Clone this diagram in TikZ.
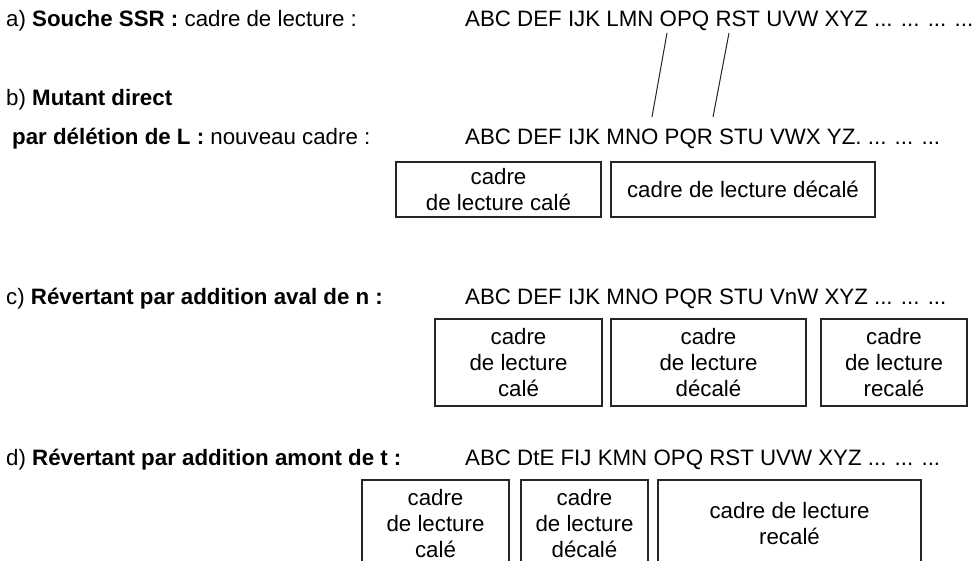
\documentclass[tikz,border=0pt]{standalone}
\usepackage{fontspec}
\setmainfont{Liberation Sans}
\begin{document}
\begin{tikzpicture}[x=1pt,y=-1pt,
  txt/.style={anchor=base west,inner sep=0pt,font=\fontsize{22.3}{26}\selectfont},
  frame/.style={draw=black!85,line width=1.2pt,align=center,inner sep=0pt,
    font=\fontsize{22.3}{26}\selectfont},
  link/.style={draw=black!85,line width=1pt}]
\useasboundingbox (0,0) rectangle (980,561);
% row a
\node[txt] (la) at (6,27) {a) \textbf{Souche SSR :} cadre de lecture :};
\node[txt] (sa) at (465,27) {ABC DEF IJK LMN OPQ RST UVW XYZ ... ... ... ...};
% row b
\node[txt] (lb1) at (6,106) {b) \textbf{Mutant direct}};
\node[txt] (lb2) at (12,145) {\textbf{par délétion de L :} nouveau cadre :};
\node[txt] (sb) at (465,145) {ABC DEF IJK MNO PQR STU VWX YZ. ... ... ...};
\coordinate (p1a) at (667,33);
\coordinate (p1b) at (652,117);
\coordinate (p2a) at (729,33);
\coordinate (p2b) at (713,117);
\draw[link] (p1a) -- (p1b);
\draw[link] (p2a) -- (p2b);
\node[frame,minimum width=205,minimum height=55] (b1) at (498.5,189.5) {cadre\\de lecture calé};
\node[frame,minimum width=264,minimum height=55] (b2) at (743,189.5) {cadre de lecture décalé};
% row c
\node[txt] (lc) at (6,305) {c) \textbf{Révertant par addition aval de n :}};
\node[txt] (sc) at (465,305) {ABC DEF IJK MNO PQR STU VnW XYZ ... ... ...};
\node[frame,minimum width=167,minimum height=87] (c1) at (518.5,362.5) {cadre\\de lecture\\calé};
\node[frame,minimum width=195,minimum height=87] (c2) at (708.5,362.5) {cadre\\de lecture\\décalé};
\node[frame,minimum width=146,minimum height=87] (c3) at (894,362.5) {cadre\\de lecture\\recalé};
% row d
\node[txt] (ld) at (6,465) {d) \textbf{Révertant par addition amont de t :}};
\node[txt] (sd) at (465,465) {ABC DtE FIJ KMN OPQ RST UVW XYZ ... ... ...};
\begin{scope}
\clip (0,0) rectangle (980,561);
\node[frame,minimum width=147,minimum height=88] (d1) at (435.5,524) {cadre\\de lecture\\calé};
\node[frame,minimum width=127,minimum height=88] (d2) at (584.5,524) {cadre\\de lecture\\décalé};
\node[frame,minimum width=263,minimum height=88] (d3) at (789.5,524) {cadre de lecture\\recalé};
\end{scope}
\end{tikzpicture}
\end{document}
